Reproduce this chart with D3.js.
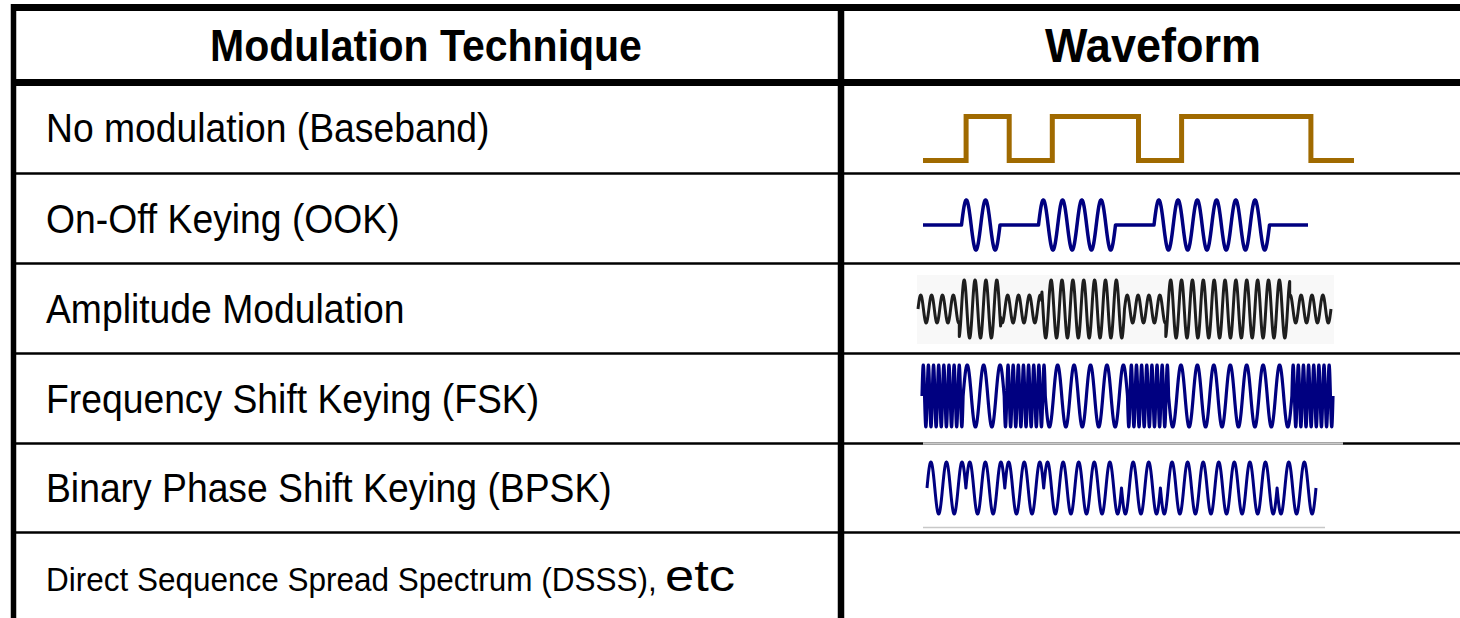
<!DOCTYPE html>
<html>
<head>
<meta charset="utf-8">
<script src="https://cdn.jsdelivr.net/npm/d3@7"></script>
<style>
  html, body { margin: 0; padding: 0; background: #fff; }
  svg { display: block; font-family: "Liberation Sans", Arial, sans-serif; }
</style>
</head>
<body>
<svg id="chart" width="1460" height="618"></svg>
<script>
// table content
const headers = ["Modulation Technique", "Waveform"];
const techniques = [
    "No modulation (Baseband)",
    "On-Off Keying (OOK)",
    "Amplitude Modulation",
    "Frequency Shift Keying (FSK)",
    "Binary Phase Shift Keying (BPSK)",
    "Direct Sequence Spread Spectrum (DSSS),"
];
const lastSuffix = "etc";

// the bit pattern every waveform encodes
const bits = [0, 1, 0, 1, 1, 0, 1, 1, 1, 0];

// carrier cycles per bit
const ookCycles = [0, 2];          // off / on
const amCycles = 3.8;
const amLevels = [0.48, 1];        // amplitude for bit 0 / bit 1
const fskCycles = [8, 2.5];        // bit 0 high freq, bit 1 low freq
const bpskCycles = 2.5;
const bpskPhase = [0, Math.PI];

const svg = d3.select("#chart");
const W = 1460, H = 618;

// row boundaries
const rowEdges = [82.5, 173.5, 263.5, 353.5, 443.5, 532.5, 618];
const colX = 841;

// -------- text --------
// the slide is a bit stretched vertically, so text gets a small y scale
function stretched(x, y) {
    return svg.append("g").attr("transform", `translate(${x},${y}) scale(1,1.07)`);
}

stretched(426, 61).append("text")
    .attr("text-anchor", "middle")
    .attr("font-weight", "bold")
    .attr("font-size", 41)
    .text(headers[0]);

stretched(1153, 62).append("text")
    .attr("text-anchor", "middle")
    .attr("font-weight", "bold")
    .attr("font-size", 45)
    .text(headers[1]);

techniques.forEach((t, i) => {
    const mid = (rowEdges[i] + rowEdges[i + 1]) / 2;
    if (i < 5) {
        stretched(46, mid + 14).append("text")
            .attr("font-size", 37.3)
            .text(t);
    } else {
        const g = stretched(46, 591);
        g.append("text")
            .attr("font-size", 31.5)
            .text(t);
        g.append("text")
            .attr("x", 619)
            .attr("font-size", 41)
            .attr("textLength", 70)
            .attr("lengthAdjust", "spacingAndGlyphs")
            .text(lastSuffix);
    }
});

// -------- waveforms --------
const line = d3.line().x(d => d[0]).y(d => d[1]);

function drawWave(opts) {
    const x = d3.scaleLinear().domain([0, bits.length]).range([opts.x0, opts.x1]);
    const y = d3.scaleLinear().domain([-1, 1]).range([opts.cy + opts.amp, opts.cy - opts.amp]);
    const pts = [];
    let phase = 0;
    const steps = 240;
    bits.forEach((b, i) => {
        const cyc = opts.cycles(b);
        for (let k = 0; k <= steps; k++) {
            const f = k / steps;
            const ph = phase + 2 * Math.PI * cyc * f + opts.offset(b);
            pts.push([x(i + f), y(opts.level(b) * Math.sin(ph))]);
        }
        phase += 2 * Math.PI * cyc;
    });
    svg.append("path")
        .attr("d", line(pts))
        .attr("fill", "none")
        .attr("stroke", opts.color)
        .attr("stroke-width", opts.width)
        .attr("stroke-linejoin", "round");
}

// AM picture background
svg.append("rect")
    .attr("x", 917).attr("y", 275).attr("width", 417).attr("height", 69)
    .attr("fill", "#f8f8f8");

// baseband square wave
{
    const x = d3.scaleLinear().domain([0, bits.length]).range([923, 1354]);
    const y = d3.scaleLinear().domain([0, 1]).range([160.5, 116.5]);
    const pts = bits.map((b, i) => [x(i), y(b)]).concat([[x(bits.length), y(bits[bits.length - 1])]]);
    svg.append("path")
        .attr("d", d3.line().x(d => d[0]).y(d => d[1]).curve(d3.curveStepAfter)(pts))
        .attr("fill", "none")
        .attr("stroke", "#a06a00")
        .attr("stroke-width", 5);
}

drawWave({ x0: 923, x1: 1308, cy: 225, amp: 25, color: "#000080", width: 3.5,
    cycles: b => ookCycles[b], level: b => b, offset: () => 0 });

drawWave({ x0: 918, x1: 1331, cy: 309, amp: 29, color: "#1e1e1e", width: 3,
    cycles: () => amCycles, level: b => amLevels[b], offset: () => 0 });

drawWave({ x0: 922, x1: 1333, cy: 396, amp: 31, color: "#000080", width: 3.2,
    cycles: b => fskCycles[b], level: () => 1, offset: () => 0 });

drawWave({ x0: 927, x1: 1316, cy: 488, amp: 26, color: "#000080", width: 3,
    cycles: () => bpskCycles, level: () => 1, offset: b => bpskPhase[b] });

// -------- grid lines --------
// thin row separators
rowEdges.slice(1, 6).forEach(yv => {
    svg.append("line")
        .attr("x1", 14).attr("x2", W)
        .attr("y1", yv).attr("y2", yv)
        .attr("stroke", "#000").attr("stroke-width", 2.5);
});
// picture borders pasted over the separators
svg.append("line").attr("x1", 923).attr("x2", 1343).attr("y1", 443.5).attr("y2", 443.5)
    .attr("stroke", "#c8c8c8").attr("stroke-width", 2.5);
svg.append("line").attr("x1", 923).attr("x2", 1325).attr("y1", 527.5).attr("y2", 527.5)
    .attr("stroke", "#c8c8c8").attr("stroke-width", 1.5);

// heavy borders
svg.append("line").attr("x1", 11).attr("x2", W).attr("y1", 7.5).attr("y2", 7.5)
    .attr("stroke", "#000").attr("stroke-width", 7);
svg.append("line").attr("x1", 11).attr("x2", W).attr("y1", 82.5).attr("y2", 82.5)
    .attr("stroke", "#000").attr("stroke-width", 7);
svg.append("line").attr("x1", 13.5).attr("x2", 13.5).attr("y1", 4).attr("y2", H)
    .attr("stroke", "#000").attr("stroke-width", 5.5);
svg.append("line").attr("x1", colX).attr("x2", colX).attr("y1", 4).attr("y2", H)
    .attr("stroke", "#000").attr("stroke-width", 6.5);
</script>
</body>
</html>
